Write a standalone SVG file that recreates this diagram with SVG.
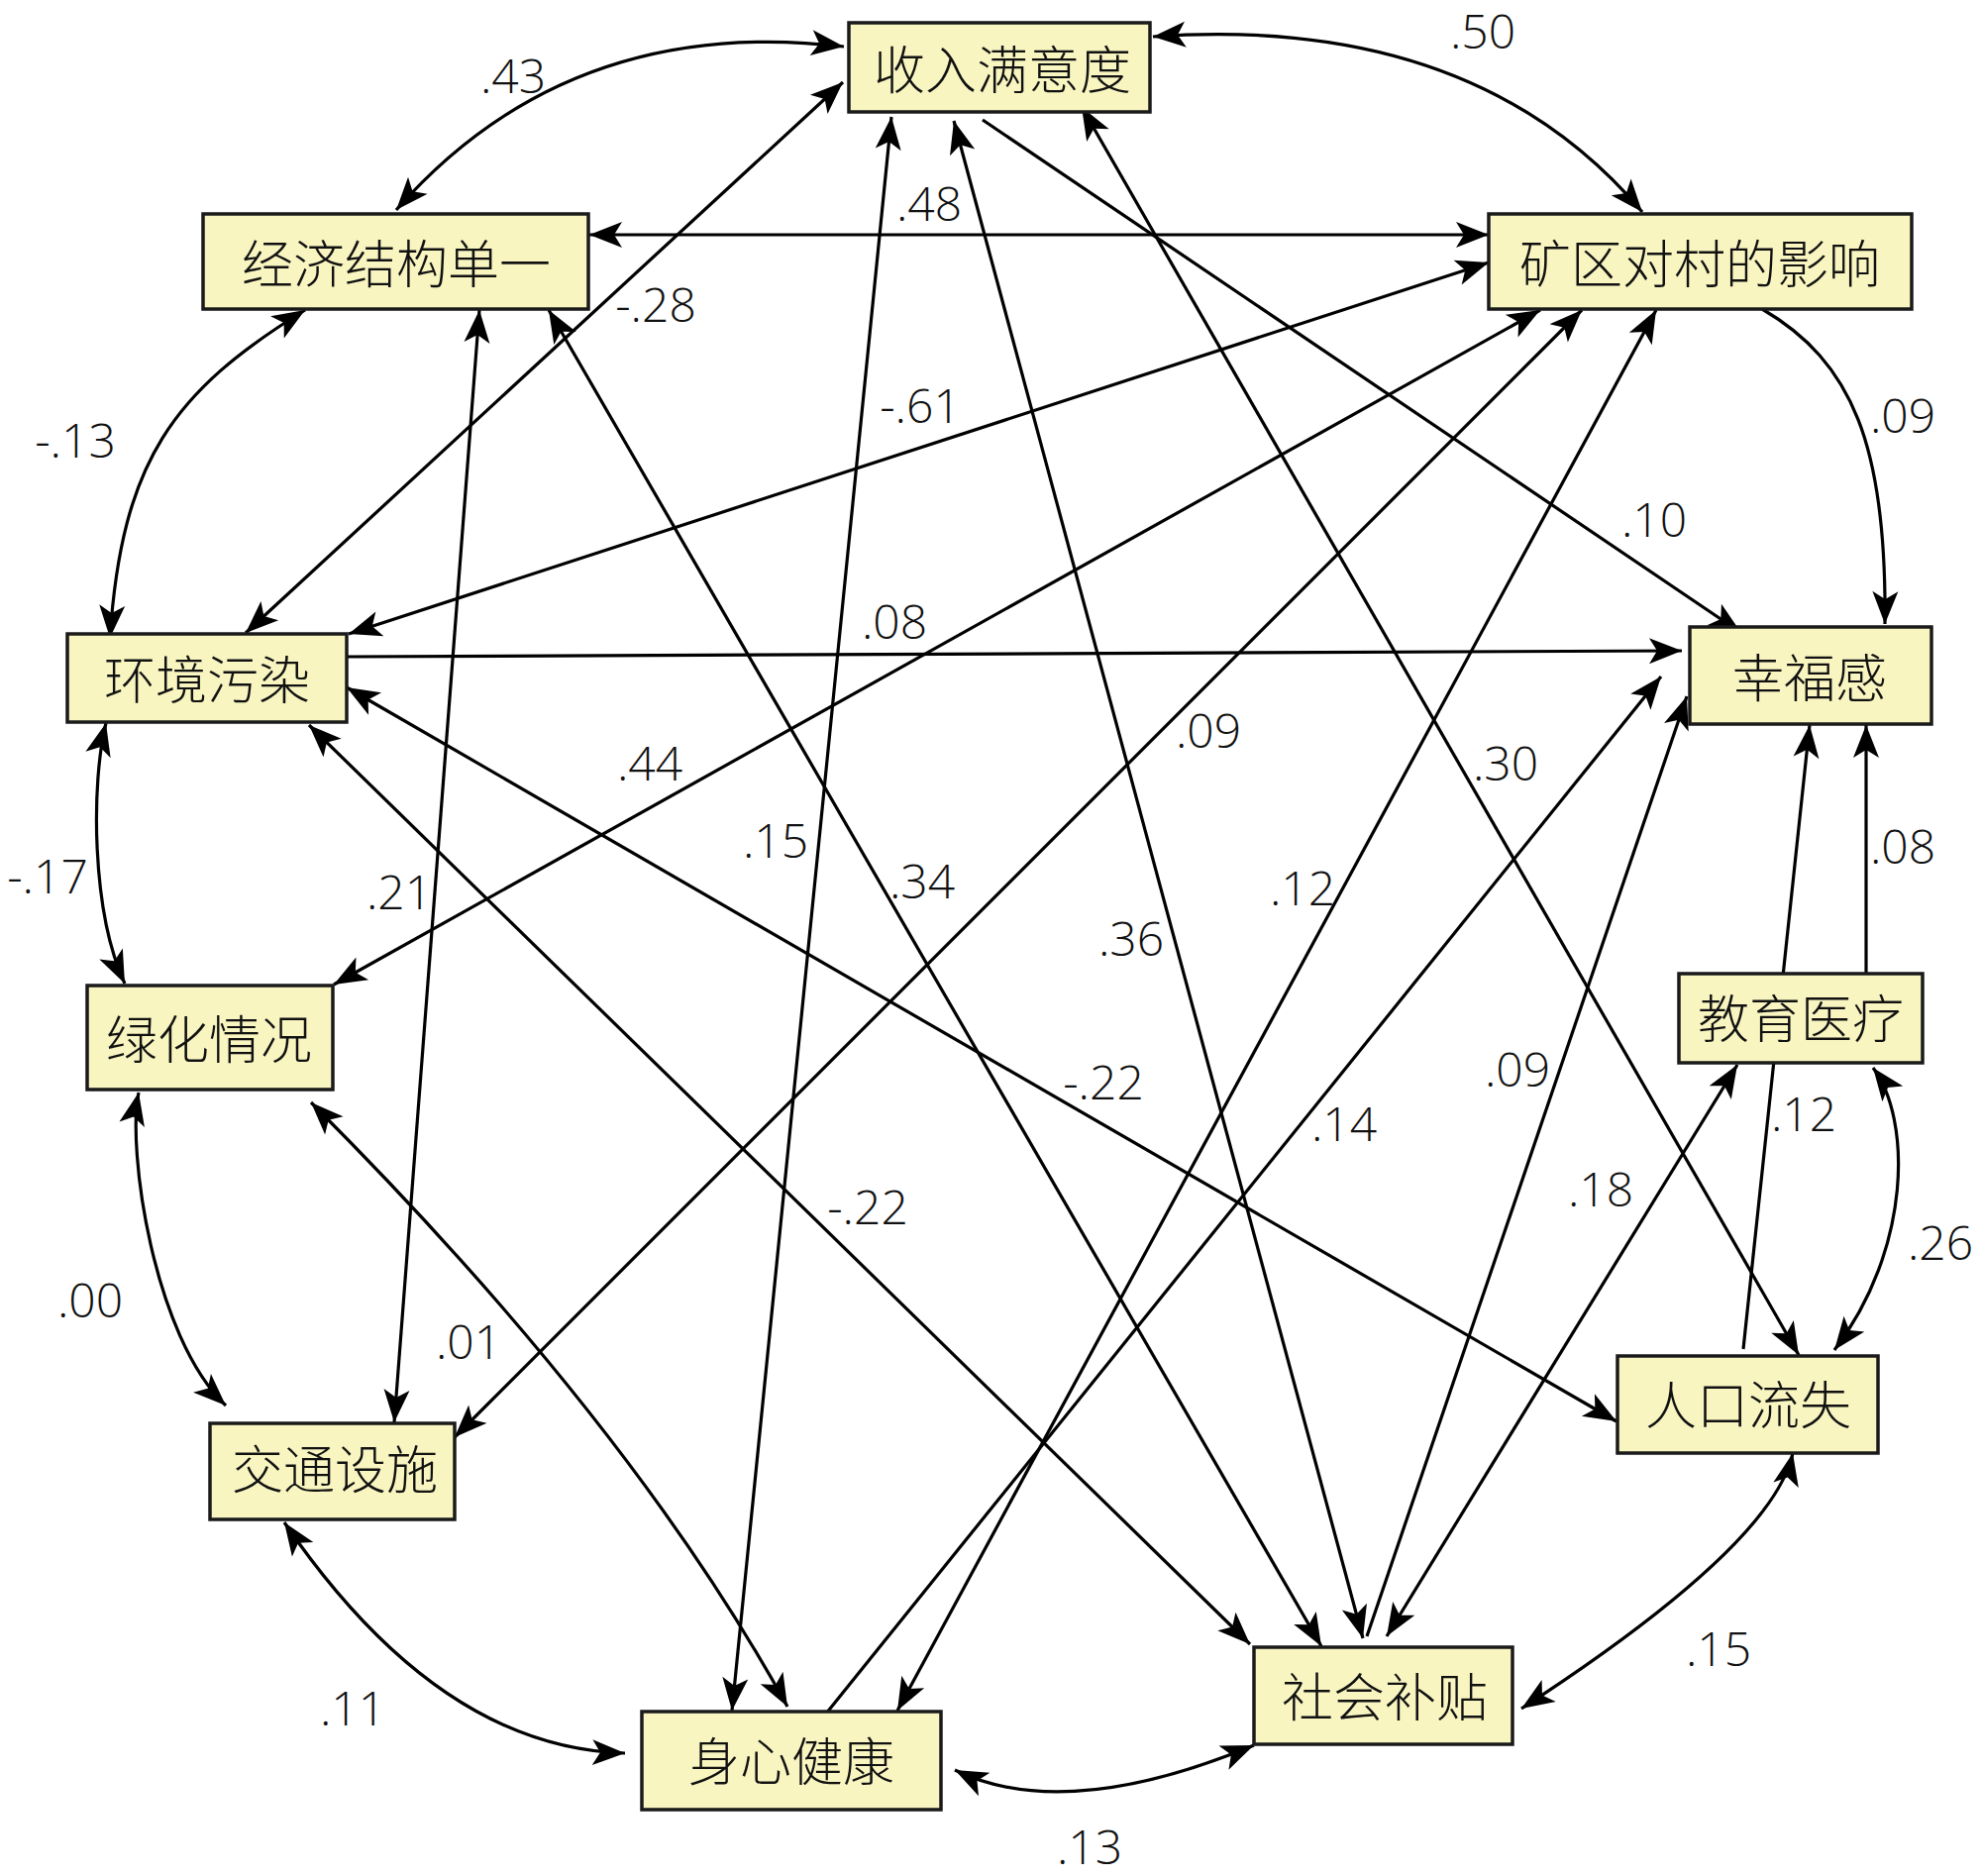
<svg xmlns="http://www.w3.org/2000/svg" width="2000" height="1894" viewBox="0 0 2000 1894">
<style>
.node rect{fill:#f8f5c1;stroke:#1a1a1a;stroke-width:3.5}
.node text{font-family:"Noto Sans CJK SC","Noto Sans",sans-serif;font-weight:300;font-size:52px;text-anchor:middle;fill:#111}
.edges path,.edges line{fill:none;stroke:#000;stroke-width:3.2}
.lbl{font-family:"Open Sans","Liberation Sans",sans-serif;font-weight:300;font-size:48px;text-anchor:middle;fill:#111}
</style>
<defs>
<marker id="ah" viewBox="-36 -16 38 32" refX="0" refY="0" markerWidth="38" markerHeight="32" orient="auto-start-reverse" markerUnits="userSpaceOnUse">
<path d="M0,0 L-33,-13 L-25,0 L-33,13 Z" fill="#000"/>
</marker>
</defs>
<rect width="2000" height="1894" fill="#fff"/>
<g class="edges">
<path d="M852,47 Q574,14 400,212" marker-start="url(#ah)" marker-end="url(#ah)"/>
<path d="M1164,37 Q1489,14 1658,214" marker-start="url(#ah)" marker-end="url(#ah)"/>
<path d="M308,313 C175,395 123,465 111,644" marker-start="url(#ah)" marker-end="url(#ah)"/>
<path d="M107,730 C92,790 92,920 126,993" marker-start="url(#ah)" marker-end="url(#ah)"/>
<path d="M140,1103 C128,1160 155,1350 228,1419" marker-start="url(#ah)" marker-end="url(#ah)"/>
<path d="M287,1537 Q443,1765 631,1770" marker-start="url(#ah)" marker-end="url(#ah)"/>
<path d="M964,1787 Q1075,1841 1266,1762" marker-start="url(#ah)" marker-end="url(#ah)"/>
<path d="M1536,1725 Q1790,1560 1810,1467" marker-start="url(#ah)" marker-end="url(#ah)"/>
<path d="M1891,1078 C1930,1130 1930,1260 1852,1363" marker-start="url(#ah)" marker-end="url(#ah)"/>
<path d="M1779,312 C1870,365 1905,450 1903,630" marker-end="url(#ah)"/>
<path d="M314,1113 Q637,1436 795,1723" marker-start="url(#ah)" marker-end="url(#ah)"/>
<line x1="595" y1="237" x2="1503" y2="237" marker-start="url(#ah)" marker-end="url(#ah)"/>
<line x1="992" y1="121" x2="1758" y2="639" marker-end="url(#ah)"/>
<line x1="851" y1="83" x2="248" y2="639" marker-start="url(#ah)" marker-end="url(#ah)"/>
<line x1="1503" y1="265" x2="352" y2="640" marker-start="url(#ah)" marker-end="url(#ah)"/>
<line x1="350" y1="663" x2="1698" y2="657" marker-end="url(#ah)"/>
<line x1="1555" y1="313" x2="337" y2="994" marker-start="url(#ah)" marker-end="url(#ah)"/>
<line x1="1597" y1="313" x2="459" y2="1451" marker-start="url(#ah)" marker-end="url(#ah)"/>
<line x1="1672" y1="313" x2="906" y2="1727" marker-start="url(#ah)" marker-end="url(#ah)"/>
<line x1="484" y1="313" x2="398" y2="1436" marker-start="url(#ah)" marker-end="url(#ah)"/>
<line x1="554" y1="313" x2="1334" y2="1662" marker-start="url(#ah)" marker-end="url(#ah)"/>
<line x1="900" y1="118" x2="739" y2="1727" marker-start="url(#ah)" marker-end="url(#ah)"/>
<line x1="963" y1="122" x2="1376" y2="1654" marker-start="url(#ah)" marker-end="url(#ah)"/>
<line x1="1092" y1="108" x2="1816" y2="1368" marker-start="url(#ah)" marker-end="url(#ah)"/>
<line x1="350" y1="694" x2="1632" y2="1435" marker-start="url(#ah)" marker-end="url(#ah)"/>
<line x1="312" y1="732" x2="1262" y2="1660" marker-start="url(#ah)" marker-end="url(#ah)"/>
<line x1="834" y1="1730" x2="1677" y2="683" marker-end="url(#ah)"/>
<line x1="1380" y1="1652" x2="1703" y2="703" marker-end="url(#ah)"/>
<line x1="1754" y1="1075" x2="1400" y2="1652" marker-start="url(#ah)" marker-end="url(#ah)"/>
<line x1="1760" y1="1362" x2="1827" y2="732" marker-end="url(#ah)"/>
<line x1="1884" y1="983" x2="1884" y2="732" marker-end="url(#ah)"/>
</g>
<g class="labels">
<text class="lbl" x="518" y="94">.43</text>
<text class="lbl" x="1497" y="49">.50</text>
<text class="lbl" x="938" y="223">.48</text>
<text class="lbl" x="662" y="325">-.28</text>
<text class="lbl" x="76" y="462">-.13</text>
<text class="lbl" x="929" y="427">-.61</text>
<text class="lbl" x="1921" y="437">.09</text>
<text class="lbl" x="1670" y="542">.10</text>
<text class="lbl" x="903" y="645">.08</text>
<text class="lbl" x="656" y="788">.44</text>
<text class="lbl" x="1220" y="755">.09</text>
<text class="lbl" x="48" y="902">-.17</text>
<text class="lbl" x="403" y="918">.21</text>
<text class="lbl" x="783" y="866">.15</text>
<text class="lbl" x="931" y="907">.34</text>
<text class="lbl" x="1520" y="788">.30</text>
<text class="lbl" x="1315" y="914">.12</text>
<text class="lbl" x="1142" y="965">.36</text>
<text class="lbl" x="1921" y="872">.08</text>
<text class="lbl" x="1114" y="1110">-.22</text>
<text class="lbl" x="1532" y="1097">.09</text>
<text class="lbl" x="1357" y="1152">.14</text>
<text class="lbl" x="1821" y="1142">.12</text>
<text class="lbl" x="1616" y="1218">.18</text>
<text class="lbl" x="1959" y="1272">.26</text>
<text class="lbl" x="876" y="1236">-.22</text>
<text class="lbl" x="91" y="1330">.00</text>
<text class="lbl" x="473" y="1372">.01</text>
<text class="lbl" x="356" y="1742">.11</text>
<text class="lbl" x="1735" y="1682">.15</text>
<text class="lbl" x="1100" y="1882">.13</text>
</g>
<g id="n1" class="node"><rect x="857" y="23" width="304" height="90"/><text x="1012" y="90">收入满意度</text></g>
<g id="n2" class="node"><rect x="205" y="216" width="389" height="96"/><text x="400" y="286">经济结构单一</text></g>
<g id="n3" class="node"><rect x="1503" y="216" width="427" height="96"/><text x="1716" y="286">矿区对村的影响</text></g>
<g id="n4" class="node"><rect x="68" y="640" width="282" height="89"/><text x="209" y="706">环境污染</text></g>
<g id="n5" class="node"><rect x="1706" y="633" width="244" height="98"/><text x="1827" y="704">幸福感</text></g>
<g id="n6" class="node"><rect x="88" y="995" width="248" height="105"/><text x="211" y="1069">绿化情况</text></g>
<g id="n7" class="node"><rect x="1695" y="983" width="246" height="90"/><text x="1818" y="1048">教育医疗</text></g>
<g id="n8" class="node"><rect x="212" y="1437" width="247" height="97"/><text x="338" y="1503">交通设施</text></g>
<g id="n9" class="node"><rect x="1633" y="1369" width="263" height="98"/><text x="1765" y="1438">人口流失</text></g>
<g id="n10" class="node"><rect x="1266" y="1663" width="261" height="98"/><text x="1398" y="1733">社会补贴</text></g>
<g id="n11" class="node"><rect x="648" y="1728" width="302" height="99"/><text x="799" y="1798">身心健康</text></g>
</svg>
